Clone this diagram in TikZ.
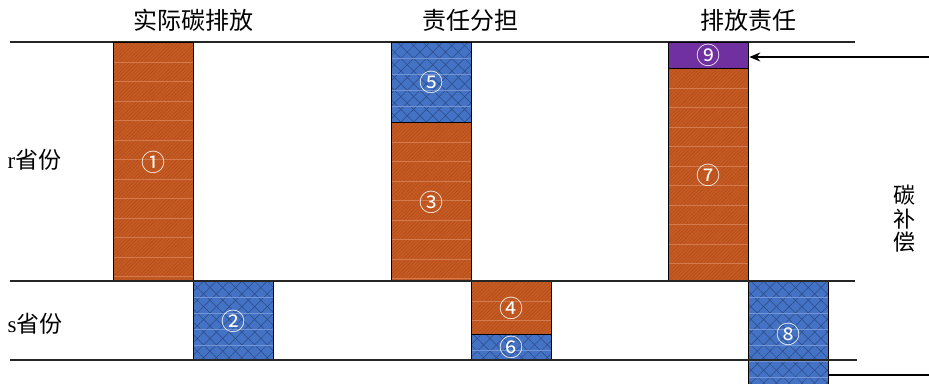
\documentclass[tikz,border=0pt]{standalone}
\usepackage{fontspec}
\setmainfont{Liberation Serif}
\newfontfamily\cjk{Noto Sans CJK SC}
\usetikzlibrary{patterns.meta,arrows.meta}
\definecolor{myorange}{HTML}{C55A22}
\definecolor{darkorange}{HTML}{A9481A}
\definecolor{myblue}{HTML}{4472C4}
\definecolor{darkblue}{HTML}{2A4A85}
\definecolor{mypurple}{HTML}{7030A0}
\tikzset{
  bar/.style={draw=black, line width=1.3pt, inner sep=0pt, anchor=north west,
    text=white, font=\cjk\fontsize{24}{24}\selectfont, minimum width=80pt},
  orangebar/.style={bar, preaction={fill=myorange},
    preaction={pattern={Lines[angle=45,distance=2.5pt,line width=0.3pt]}, pattern color=darkorange},
    path picture={\foreach \k in {1,...,14}{\draw[white!20!myorange, line width=0.5pt]
      ([yshift=-\k*19.5pt]path picture bounding box.north west) -- ++(90pt,0);}}},
  bluebar/.style={bar, preaction={fill=myblue},
    preaction={pattern={Lines[angle=45,distance=9pt,line width=0.5pt]}, pattern color=darkblue},
    preaction={pattern={Lines[angle=-45,distance=9pt,line width=0.5pt]}, pattern color=darkblue},
    path picture={\foreach \k in {1,...,8}{\draw[white!25!myblue, line width=0.5pt]
      ([yshift=-\k*16pt]path picture bounding box.north west) -- ++(90pt,0);}}},
  purplebar/.style={bar, fill=mypurple},
  hline/.style={line width=1.2pt, black!85},
  title/.style={font=\cjk\fontsize{24}{24}\selectfont},
  side/.style={font=\fontsize{23}{25}\selectfont, anchor=west},
}
\begin{document}
\begin{tikzpicture}[x=1pt,y=-1pt]
\useasboundingbox (0,0) rectangle (929,383);
% guide lines
\coordinate (t1) at (10,42); \coordinate (t2) at (855,42);
\coordinate (m1) at (10,281); \coordinate (m2) at (855,281);
\coordinate (b1) at (10,360); \coordinate (b2) at (857,360);
\draw[hline] (t1) -- (t2);
% bars
\node[orangebar, minimum height=239pt] (n1) at (113,42) {①};
\node[bluebar, minimum height=79pt] (n2) at (193,281) {②};
\node[bluebar, minimum height=80pt] (n5) at (391,42) {⑤};
\node[orangebar, minimum height=159pt] (n3) at (391,122) {③};
\node[orangebar, minimum height=53pt] (n4) at (471,281) {④};
\node[bluebar, minimum height=26pt] (n6) at (471,334) {⑥};
\node[purplebar, minimum height=26pt] (n9) at (668,42) {⑨};
\node[orangebar, minimum height=213pt] (n7) at (668,68) {⑦};
\node[bluebar, minimum height=104pt] (n8) at (748,281) {};
\node[text=white, font=\cjk\fontsize{24}{24}\selectfont] (n8t) at (788,334) {⑧};
\draw[hline] (m1) -- (m2);
\draw[hline] (b1) -- (b2);
% titles
\node[title] (h1) at (193,20) {实际碳排放};
\node[title] (h2) at (470,20) {责任分担};
\node[title] (h3) at (748,20) {排放责任};
\node[side] (r) at (4,160) {r{\cjk 省份}};
\node[side] (s) at (4,324) {s{\cjk 省份}};
\node[font=\cjk\fontsize{22}{23.5}\selectfont, align=center] (c) at (904,219) {碳\\补\\偿};
% arrow and right line
\coordinate (a0) at (929,57);
\draw[line width=1.2pt, -{Stealth[length=11pt,width=9pt]}] (a0) -- (n9.east |- a0);
\coordinate (l0) at (929,375);
\draw[line width=1.2pt] (l0) -- (n8.east |- l0);
\end{tikzpicture}
\end{document}
